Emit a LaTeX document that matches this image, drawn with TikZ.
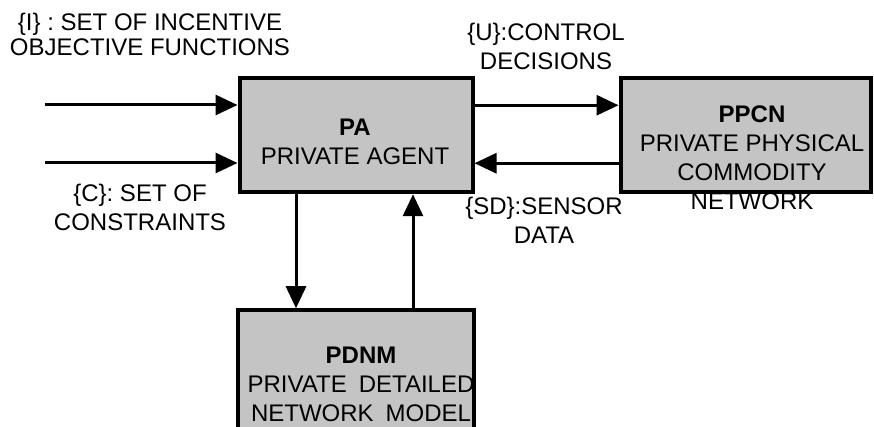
\documentclass[tikz,border=0pt]{standalone}
\usepackage{fontspec}
\setmainfont{Liberation Sans}
\usetikzlibrary{positioning,arrows.meta}
\tikzset{
block/.style={
draw,
line width=4pt,
fill=black!23,
inner sep=0pt,minimum height=114pt},
boxtext/.style={align=center,inner sep=0pt},
line/.style={line width=3pt,-{Triangle[length=22pt,width=20pt]}},
font={\fontsize{24pt}{29pt}\selectfont}
}

\begin{document}
\begin{tikzpicture}[x=1pt,y=1pt]
  \useasboundingbox (0,0) rectangle (874,427);
  \node[block, minimum width=233pt] (pa) at (356,291.75) {};
  \node[block, minimum width=250.5pt, right=144pt of pa] (ppcn) {};
  \node[block, minimum width=236pt, minimum height=121.5pt, below=114pt of pa] (pdnm) {};
  \node[boxtext] (patext) at (355,285) {\textbf{PA}\\PRIVATE AGENT};
  \node[boxtext] (ppcntext) at (752,269) {\textbf{PPCN}\\PRIVATE PHYSICAL\\COMMODITY\\NETWORK};
  \node[boxtext] (pdnmtext) at (361,43) {\textbf{PDNM}\\PRIVATE\enspace DETAILED\\NETWORK\enspace MODEL};
  \coordinate (in1) at (45,322);
  \coordinate (in2) at (45,264);
  \draw[line] (in1) -- (in1 -| pa.west);
  \draw[line] (in2) -- (in2 -| pa.west);
  \draw[line] ([yshift=30pt] pa.east) -- ([yshift=30pt] pa.east -| ppcn.west);
  \draw[line] ([yshift=-28pt] pa.east -| ppcn.west) -- ([yshift=-28pt] pa.east);
  \draw[line] ([xshift=-60pt] pa.south) -- ([xshift=-60pt] pa.south |- pdnm.north);
  \draw[line] ([xshift=57pt] pa.south |- pdnm.north) -- ([xshift=57pt] pa.south);
  \node[boxtext, font={\fontsize{24pt}{25pt}\selectfont}] (ilabel) at (150,392.5) {\{I\} : SET OF INCENTIVE\\OBJECTIVE FUNCTIONS};
  \node[boxtext] (clabel) at (140,219.5) {\{C\}: SET OF\\CONSTRAINTS};
  \node[boxtext] (ulabel) at (546,380.5) {\{U\}:CONTROL\\DECISIONS};
  \node[boxtext] (sdlabel) at (544,206.5) {\{SD\}:SENSOR\\DATA};
\end{tikzpicture}
\end{document}
